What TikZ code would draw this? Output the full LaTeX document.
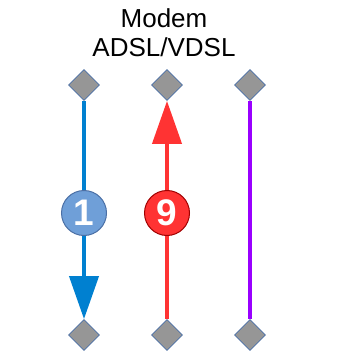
\documentclass[tikz,border=0pt]{standalone}
\usepackage{fontspec}
\setmainfont{Liberation Sans}
\usetikzlibrary{shapes.geometric,arrows.meta}
\definecolor{dgray}{HTML}{969696}
\definecolor{dborder}{HTML}{4A6FA5}
\definecolor{lblue}{HTML}{0080D0}
\definecolor{lred}{HTML}{FF3333}
\definecolor{lpurple}{HTML}{9900FF}
\definecolor{cblue}{HTML}{6F9FD8}
\definecolor{cblueb}{HTML}{4A6FA5}
\definecolor{credb}{HTML}{A00000}
\tikzset{
  port/.style={diamond, draw=dborder, fill=dgray, line width=0.8pt, minimum width=31pt, minimum height=31pt, inner sep=0pt},
  wire/.style={line width=4pt},
  bigtip/.style={-{Triangle[length=43pt,width=29pt]}},
  badge/.style={circle, minimum size=45pt, inner sep=0pt, line width=1pt, text=white, font=\bfseries\fontsize{37}{37}\selectfont},
}
\begin{document}
\begin{tikzpicture}[x=1pt,y=1pt]
\useasboundingbox (0,0) rectangle (348,-358);
\node[font=\fontsize{26}{29}\selectfont, align=center] (title) at (164,-33) {Modem\\ADSL/VDSL};
\node[port] (t1) at (84,-85) {};
\node[port] (t2) at (167,-85) {};
\node[port] (t3) at (250,-85) {};
\node[port] (b1) at (84,-335) {};
\node[port] (b2) at (167,-335) {};
\node[port] (b3) at (250,-335) {};
\draw[wire, lblue, bigtip] (t1.south) -- (b1.north);
\draw[wire, lred, bigtip] (b2.north) -- (t2.south);
\draw[wire, lpurple] (t3.south) -- (b3.north);
\node[badge, fill=cblue, draw=cblueb] (n1) at (84,-213) {1};
\node[badge, fill=lred, draw=credb] (n9) at (167,-213) {9};
\end{tikzpicture}
\end{document}
